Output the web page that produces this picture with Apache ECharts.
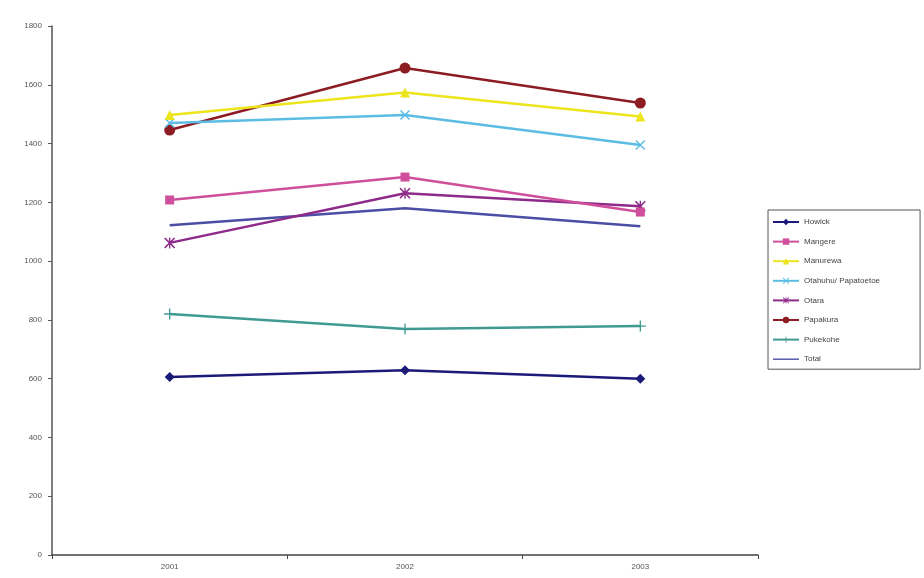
<!DOCTYPE html>
<html><head><meta charset="utf-8">
<script src="https://cdn.jsdelivr.net/npm/echarts@6/dist/echarts.min.js"></script>
<style>html,body{margin:0;padding:0;background:#fff}#c{width:924px;height:578px}</style>
</head><body><div id="c"></div>
<script>
const categories = ['2001', '2002', '2003'];
const howick = [606, 629, 600];
const mangere = [1208, 1286, 1167];
const manurewa = [1497, 1574, 1492];
const otahuhu = [1470, 1497, 1395];
const otara = [1062, 1231, 1187];
const papakura = [1446, 1657, 1538];
const pukekohe = [820, 769, 779];
const total = [1122, 1180, 1119];
const seriesNames = ['Howick', 'Mangere', 'Manurewa', 'Otahuhu/ Papatoetoe', 'Otara', 'Papakura', 'Pukekohe', 'Total'];

const X = 'path://M0,1L1,0L5,4L9,0L10,1L6,5L10,9L9,10L5,6L1,10L0,9L4,5Z';
const PLUS = 'path://M4.4,0H5.6V4.4H10V5.6H5.6V10H4.4V5.6H0V4.4H4.4Z';
const STAR = 'path://M0,1L1,0L5,4L9,0L10,1L6,5L10,9L9,10L5,6L1,10L0,9L4,5ZM4.4,0H5.6V10H4.4Z';

const styles = [
  {data: howick, color: '#1c1a78', symbol: 'diamond', size: 10},
  {data: mangere, color: '#cf4f9c', symbol: 'rect', size: 9},
  {data: manurewa, color: '#ece41c', symbol: 'triangle', size: 10},
  {data: otahuhu, color: '#5bbde3', symbol: X, size: 10},
  {data: otara, color: '#8e2a8a', symbol: STAR, size: 11},
  {data: papakura, color: '#8c1c22', symbol: 'circle', size: 11},
  {data: pukekohe, color: '#3f9a92', symbol: PLUS, size: 11},
  {data: total, color: '#4c4ea6', symbol: 'none', size: 0}
];

const chart = echarts.init(document.getElementById('c'));
chart.setOption({
  animation: false,
  backgroundColor: '#fff',
  grid: {left: 52, right: 166, top: 26, bottom: 23},
  legend: {
    orient: 'vertical', left: 768, top: 210, width: 150,
    data: seriesNames.map(n => n === 'Total' ? {name: n, icon: 'path://M0,4.3H26V5.7H0Z'} : n),
    itemWidth: 26, itemHeight: 8, itemGap: 11.6,
    padding: [8, 40, 6, 4],
    borderColor: '#555', borderWidth: 1,
    textStyle: {fontSize: 8, color: '#444', fontFamily: 'Liberation Sans'}
  },
  xAxis: {
    type: 'category', data: categories, boundaryGap: true,
    axisLine: {lineStyle: {color: '#444', width: 1.5}},
    axisTick: {show: true, inside: false, length: 4, lineStyle: {color: '#444'}},
    axisLabel: {fontSize: 8, color: '#555', margin: 8, fontFamily: 'Liberation Sans'},
    splitLine: {show: false}
  },
  yAxis: {
    type: 'value', min: 0, max: 1800, interval: 200,
    axisLine: {show: true, lineStyle: {color: '#555', width: 1.5}},
    axisTick: {show: true, length: 4, lineStyle: {color: '#555'}},
    axisLabel: {fontSize: 8, color: '#555', margin: 10, fontFamily: 'Liberation Sans', formatter: v => String(v)},
    splitLine: {show: false}
  },
  series: styles.map((s, i) => ({
    name: seriesNames[i], type: 'line', data: s.data,
    symbol: s.symbol, symbolSize: s.size, showSymbol: s.symbol !== 'none',
    lineStyle: {color: s.color, width: 2.5},
    itemStyle: {color: s.color},
    z: 10 - i
  }))
});
</script></body></html>
